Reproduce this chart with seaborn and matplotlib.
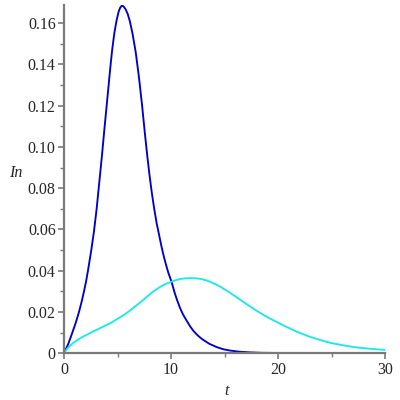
import numpy as np
import pandas as pd
import matplotlib
matplotlib.use("Agg")
import matplotlib.pyplot as plt
import seaborn as sns
from matplotlib.ticker import MultipleLocator, FixedLocator

# --- data ---
t_blue = [0, 0.4, 0.78, 1.1, 1.4, 1.65, 1.87, 2.07, 2.24, 2.55, 2.8, 3.05, 3.3,
          3.55, 3.8, 4.08, 4.3, 4.5, 4.7, 4.9, 5.1, 5.25, 5.39, 5.55, 5.75,
          5.95, 6.15, 6.4, 6.7, 7.0, 7.3, 7.55, 7.79, 8.0, 8.2, 8.43, 8.66,
          8.9, 9.1, 9.3, 9.5, 9.75, 10.06, 10.3, 10.55, 10.84, 11.1, 11.4,
          11.8, 12.1, 12.4, 12.7, 13.0, 13.6, 14.3, 14.9, 15.5, 16.4, 17.4,
          18.5, 20, 22, 25, 30]
y_blue = [0, 0.0045, 0.010, 0.0148, 0.020, 0.025, 0.030, 0.035, 0.040, 0.050,
          0.059, 0.070, 0.083, 0.096, 0.110, 0.125, 0.137, 0.147, 0.155,
          0.161, 0.1655, 0.1675, 0.1684, 0.1682, 0.1668, 0.1645, 0.161,
          0.155, 0.146, 0.134, 0.120, 0.107, 0.0953, 0.086, 0.078, 0.070,
          0.063, 0.057, 0.052, 0.0475, 0.0435, 0.039, 0.0345, 0.030, 0.026,
          0.022, 0.019, 0.0163, 0.0129, 0.0108, 0.0091, 0.0077, 0.0065,
          0.0045, 0.0029, 0.0019, 0.0013, 0.0007, 0.0004, 0.0002, 0.0001,
          0.00003, 0.0, 0.0]

t_cyan = [0, 0.3, 0.6, 0.87, 1.3, 1.8, 2.3, 2.74, 3.2, 3.7, 4.3, 4.7, 5.2,
          5.86, 6.3, 6.8, 7.4, 7.8, 8.3, 8.97, 9.5, 10.06, 10.5, 11.0, 11.4,
          11.8, 12.3, 12.8, 13.3, 13.8, 14.3, 14.8, 15.3, 15.8, 16.3, 16.8,
          17.4, 17.9, 18.5, 19.25, 20.2, 20.6, 21.1, 21.6, 22.0, 22.5, 23.0,
          24.0, 24.9, 25.8, 26.7, 27.5, 28.3, 29.2, 30]
y_cyan = [0, 0.0022, 0.0038, 0.0050, 0.0066, 0.0081, 0.0094, 0.0106, 0.0117,
          0.0130, 0.0145, 0.0157, 0.0173, 0.0195, 0.0212, 0.0233, 0.0258,
          0.0276, 0.0298, 0.0321, 0.0336, 0.0347, 0.0355, 0.0361, 0.0363,
          0.0364, 0.0363, 0.0360, 0.0353, 0.0343, 0.0331, 0.0316, 0.0300,
          0.0283, 0.0265, 0.0247, 0.0226, 0.0209, 0.0190, 0.0168, 0.0143,
          0.0132, 0.0120, 0.0108, 0.0099, 0.0089, 0.0079, 0.0063, 0.0050,
          0.0041, 0.0033, 0.0027, 0.0023, 0.0019, 0.0016]

x_ticks = [0, 10, 20, 30]
y_ticks = [0, 0.02, 0.04, 0.06, 0.08, 0.10, 0.12, 0.14, 0.16]
y_tick_labels = ["0", "0.02", "0.04", "0.06", "0.08", "0.10", "0.12", "0.14", "0.16"]

df_blue = pd.DataFrame({"t": t_blue, "In": y_blue})
df_cyan = pd.DataFrame({"t": t_cyan, "In": y_cyan})

sns.set_style("white")
plt.rcParams["font.family"] = ["Liberation Serif", "DejaVu Serif"]

fig = plt.figure(figsize=(4, 4), dpi=100)
ax = fig.add_axes([0.16, 0.117, 0.8025, 0.871])

sns.lineplot(data=df_blue, x="t", y="In", ax=ax, color="#0000CC",
             linewidth=1.35, sort=False, estimator=None,
             solid_joinstyle="round", solid_capstyle="round")
sns.lineplot(data=df_cyan, x="t", y="In", ax=ax, color="#1EE8E8",
             linewidth=1.35, sort=False, estimator=None,
             solid_joinstyle="round", solid_capstyle="round")

ax.set_xlim(0, 30)
ax.set_ylim(0, 0.1689)

for s in ["top", "right"]:
    ax.spines[s].set_visible(False)
for s in ["left", "bottom"]:
    ax.spines[s].set_color("#7a7a7a")
    ax.spines[s].set_linewidth(1.6)

ax.xaxis.set_major_locator(FixedLocator(x_ticks))
ax.xaxis.set_minor_locator(MultipleLocator(5))
ax.yaxis.set_major_locator(FixedLocator(y_ticks))
ax.yaxis.set_minor_locator(MultipleLocator(0.01))
ax.set_xticklabels([str(v) for v in x_ticks])
ax.set_yticklabels(y_tick_labels)

ax.tick_params(axis="both", which="major", direction="out", length=4,
               width=1.2, color="#7a7a7a", labelsize=11.5, pad=2,
               left=True, bottom=True)
ax.tick_params(axis="both", which="minor", direction="out", length=3,
               width=1.0, color="#7a7a7a", left=True, bottom=True)

ax.set_xlabel("t", fontstyle="italic", fontsize=11.5)
ax.set_ylabel("In", fontstyle="italic", fontsize=11.5, rotation=0)
ax.xaxis.set_label_coords(0.505, -0.085)
ax.yaxis.set_label_coords(-0.15, 0.495)

fig.savefig("out.png", dpi=100)
